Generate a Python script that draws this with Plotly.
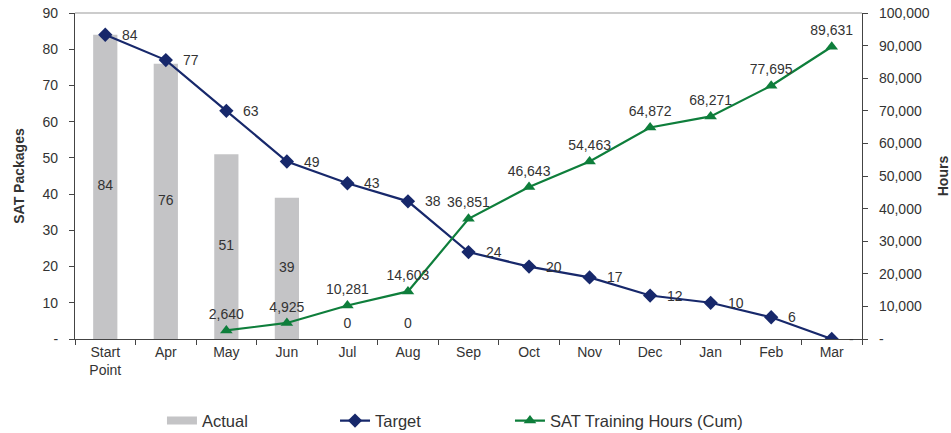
import plotly.graph_objects as go

months = ["Start<br>Point", "Apr", "May", "Jun", "Jul", "Aug", "Sep",
          "Oct", "Nov", "Dec", "Jan", "Feb", "Mar"]
actual = [84, 76, 51, 39, 0, 0]
target = [84, 77, 63, 49, 43, 38, 24, 20, 17, 12, 10, 6, 0]
sat_months = ["May", "Jun", "Jul", "Aug", "Sep", "Oct", "Nov", "Dec", "Jan", "Feb", "Mar"]
sat_hours = [2640, 4925, 10281, 14603, 36851, 46643, 54463, 64872, 68271, 77695, 89631]

left_ticks = list(range(0, 91, 10))
right_ticks = list(range(0, 100001, 10000))

FONT = "Liberation Sans, Arial, sans-serif"
TXT = "#333333"
NAVY = "#17286B"
GREEN = "#0E7E3B"
GREY = "#C4C4C6"
AXIS = "#444444"

fig = go.Figure()

fig.add_trace(go.Bar(
    x=months[:len(actual)], y=actual, name="Actual", showlegend=False,
    marker=dict(color=GREY, line=dict(width=0)), width=0.4,
))
# legend swatch for the bars: a wide grey strip
fig.add_trace(go.Scatter(
    x=[None], y=[None], name="Actual", mode="lines",
    line=dict(color=GREY, width=8), legend="legend",
))
# value labels in the middle of each bar (zero bars get a small lift)
fig.add_trace(go.Scatter(
    x=months[:len(actual)], y=[v / 2 if v > 0 else 4 for v in actual],
    mode="text", text=[str(v) for v in actual],
    textfont=dict(family=FONT, size=14, color=TXT),
    showlegend=False, hoverinfo="skip",
))
fig.add_trace(go.Scatter(
    x=months, y=target, name="Target", mode="lines+markers",
    line=dict(color=NAVY, width=2.2),
    marker=dict(symbol="diamond", size=11, color=NAVY),
    legend="legend2",
))
fig.add_trace(go.Scatter(
    x=sat_months, y=sat_hours, name="SAT Training Hours (Cum)", yaxis="y2",
    mode="lines+markers+text",
    line=dict(color=GREEN, width=2.2),
    marker=dict(symbol="triangle-up", size=11, color=GREEN),
    text=[f"{v:,}" for v in sat_hours], textposition="top center",
    textfont=dict(family=FONT, size=14, color=TXT),
    legend="legend3",
))

# Target value labels to the right of each marker
annotations = [
    dict(x=m, y=v, xref="x", yref="y", text=str(v) if v else "-",
         showarrow=False, xanchor="left", yanchor="middle", xshift=15,
         font=dict(family=FONT, size=14, color=TXT))
    for m, v in zip(months, target)
]

leg = dict(orientation="h", yref="container", y=0.028, yanchor="middle",
           xanchor="left", font=dict(size=16.5), bgcolor="rgba(0,0,0,0)")

fig.update_layout(
    width=951, height=433,
    margin=dict(l=75, r=89, t=13, b=94),
    paper_bgcolor="white", plot_bgcolor="white",
    font=dict(family=FONT, size=14, color=TXT),
    xaxis=dict(
        categoryorder="array", categoryarray=months, automargin=False,
        range=[-0.5, len(months) - 0.5],
        showline=True, linecolor=AXIS, linewidth=1.2,
        ticks="outside", tickson="boundaries", ticklen=5, tickcolor=AXIS,
        showgrid=False, tickfont=dict(size=14),
    ),
    yaxis=dict(
        range=[0, 90], tickvals=left_ticks, automargin=False,
        ticktext=[str(v) if v else "-" for v in left_ticks],
        showline=True, linecolor=AXIS, linewidth=1.2,
        ticks="outside", ticklen=5, tickcolor=AXIS, ticklabelstandoff=8,
        showgrid=False, zeroline=False, tickfont=dict(size=14),
        title=dict(text="<b>SAT Packages</b>", font=dict(size=14), standoff=14),
    ),
    yaxis2=dict(
        range=[0, 100000], overlaying="y", side="right", automargin=False,
        tickvals=right_ticks,
        ticktext=[f"{v:,}" if v else "-" for v in right_ticks],
        showline=True, linecolor=AXIS, linewidth=1.2,
        ticks="outside", ticklen=5, tickcolor=AXIS, ticklabelstandoff=8,
        showgrid=False, zeroline=False, tickfont=dict(size=14),
        title=dict(text="<b>Hours</b>", font=dict(size=14), standoff=14),
    ),
    legend=dict(leg, x=0.1105),
    legend2=dict(leg, x=0.3304),
    legend3=dict(leg, x=0.5527),
    annotations=annotations,
    shapes=[dict(type="line", xref="paper", yref="paper", x0=0, x1=1, y0=1, y1=1,
                 line=dict(color="#999999", width=1))],
)

fig.write_html("out.html")
